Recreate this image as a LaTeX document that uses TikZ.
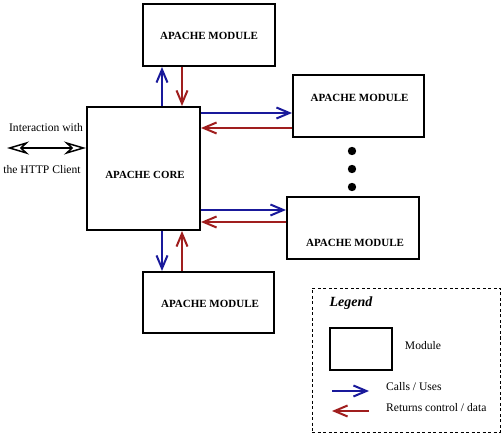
\documentclass[tikz,border=0pt]{standalone}
\usepackage{fontspec}
\setmainfont{Liberation Serif}
\usetikzlibrary{arrows.meta}
\definecolor{cblue}{RGB}{25,25,155}
\definecolor{cred}{RGB}{160,30,30}
\begin{document}
\begin{tikzpicture}[x=1pt,y=-1pt,
  modbox/.style={draw=black,line width=2pt,rectangle,inner sep=0pt},
  modtxt/.style={font=\fontsize{11}{13}\selectfont\bfseries,inner sep=0pt},
  lbl/.style={font=\fontsize{11.6}{13}\selectfont,inner sep=0pt},
  callarr/.style={draw=cblue,line width=2pt,-{Straight Barb[length=13pt,width=11pt,line width=2pt]}},
  retarr/.style={draw=cred,line width=2pt,-{Straight Barb[length=13pt,width=11pt,line width=2pt]}},
  httparr/.style={draw=black,line width=1.5pt,{Stealth[open,length=22pt,width=13pt,inset=7pt,line width=1.5pt]}-{Stealth[open,length=22pt,width=13pt,inset=7pt,line width=1.5pt]}}
]
\useasboundingbox (0,0) rectangle (503,435);
\fill[white] (0,0) rectangle (503,435);

% modules
\node[modbox,minimum width=132pt,minimum height=62pt] (top) at (209,35) {};
\node[modbox,minimum width=113pt,minimum height=123pt] (core) at (143.5,168.5) {};
\node[modbox,minimum width=131pt,minimum height=62pt] (r1) at (358.5,106) {};
\node[modbox,minimum width=132pt,minimum height=62pt] (r2) at (353,228) {};
\node[modbox,minimum width=131pt,minimum height=61pt] (bot) at (208.5,302.5) {};

\node[modtxt] (ttop) at (209,36) {APACHE MODULE};
\node[font=\fontsize{10.9}{12}\selectfont\bfseries,inner sep=0pt] (tcore) at (145,175) {APACHE CORE};
\node[modtxt] (tr1) at (359.5,98) {APACHE MODULE};
\node[modtxt] (tr2) at (355,243) {APACHE MODULE};
\node[modtxt] (tbot) at (210,304) {APACHE MODULE};

% dots
\fill (352,151) circle (4.2pt);
\fill (352,169) circle (4.2pt);
\fill (352,187) circle (4.2pt);

% vertical connectors
\coordinate (xa) at (162,0);
\coordinate (xb) at (182,0);
\draw[callarr] (xa |- core.north) -- (xa |- top.south);
\draw[retarr] (xb |- top.south) -- (xb |- core.north);
\draw[callarr] (xa |- core.south) -- (xa |- bot.north);
\draw[retarr] (xb |- bot.north) -- (xb |- core.south);

% horizontal connectors
\coordinate (ya) at (0,113);
\coordinate (yb) at (0,128);
\coordinate (yc) at (0,210);
\coordinate (yd) at (0,222);
\draw[callarr] (core.east |- ya) -- (r1.west |- ya);
\draw[retarr] (r1.west |- yb) -- (core.east |- yb);
\draw[callarr] (core.east |- yc) -- (r2.west |- yc);
\draw[retarr] (r2.west |- yd) -- (core.east |- yd);

% HTTP client
\coordinate (hc) at (7,148);
\draw[httparr] (hc) -- (core.west |- hc);
\node[lbl] (int1) at (46,128) {Interaction with};
\node[lbl] (int2) at (42,170) {the HTTP Client};

% legend
\node[draw=black,line width=0.9pt,dash pattern=on 3pt off 2.5pt,minimum width=188pt,minimum height=144pt,inner sep=0pt] (leg) at (406,360) {};
\node[font=\fontsize{14}{16}\selectfont\bfseries\itshape,inner sep=0pt] (legt) at (351,303) {Legend};
\node[draw=black,line width=2pt,minimum width=62pt,minimum height=42pt,inner sep=0pt] (legbox) at (361,349) {};
\node[lbl] (legmod) at (423,346) {Module};
\coordinate (la1) at (332,391);
\coordinate (la2) at (369,391);
\coordinate (lr1) at (369,411);
\coordinate (lr2) at (332,411);
\draw[callarr] (la1) -- (la2);
\draw[retarr] (lr1) -- (lr2);
\node[lbl,anchor=west] (lcall) at (386,387) {Calls / Uses};
\node[lbl,anchor=west] (lret) at (386,408) {Returns control / data};
\end{tikzpicture}
\end{document}
